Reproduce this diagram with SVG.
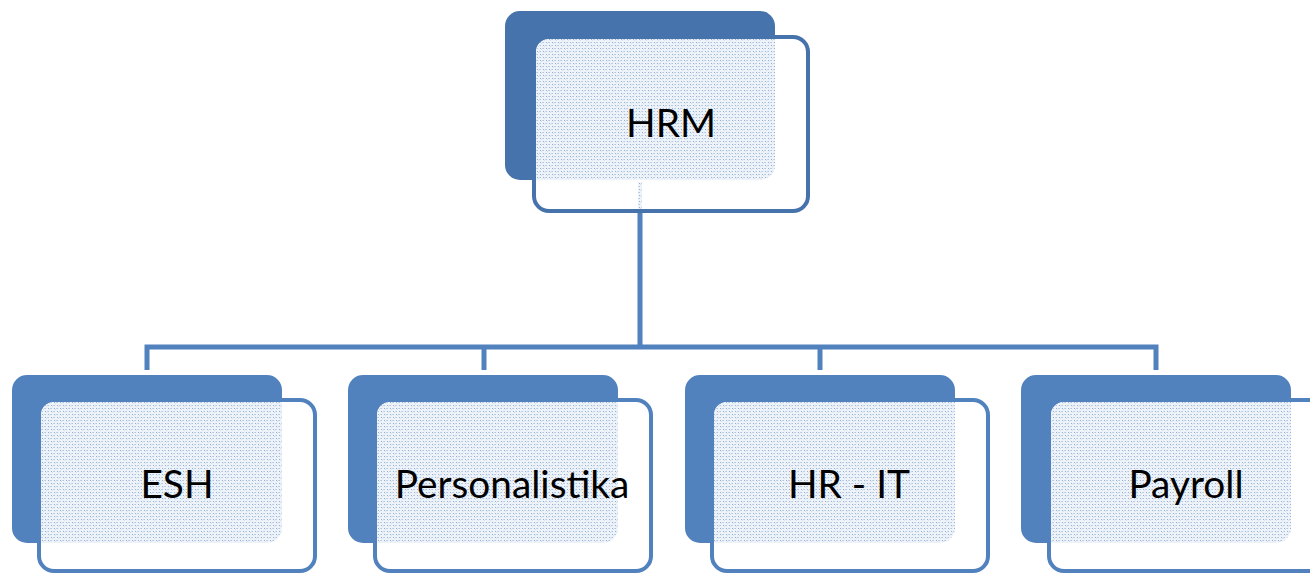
<svg xmlns="http://www.w3.org/2000/svg" width="1310" height="575" viewBox="0 0 1310 575">
<style>
.back{fill:#5182be}
.backTop{fill:#4673ab}
.front{fill:#ffffff;stroke:#5182be;stroke-width:4}
.frontTop{fill:#ffffff;stroke:#4673ab;stroke-width:4}
.dots{fill:url(#dot)}
.lbl{font-family:Lato,"Open Sans",sans-serif;font-size:38.8px;fill:#000;text-anchor:middle}
.conn{fill:none;stroke:#5182be;stroke-width:5}
</style>
<defs>
<pattern id="dot" width="6" height="6" patternUnits="userSpaceOnUse">
<rect width="6" height="6" fill="#eef3f9"/>
<rect x="0" y="0" width="1" height="1" fill="#94afd4"/>
<rect x="3" y="3" width="1" height="1" fill="#94afd4"/>
<rect x="2" y="0" width="1" height="1" fill="#c4d4e8"/>
<rect x="5" y="3" width="1" height="1" fill="#c4d4e8"/>
<rect x="0" y="3" width="1" height="1" fill="#b3c7e1"/>
<rect x="3" y="0" width="1" height="1" fill="#b3c7e1"/>
<rect x="1" y="1" width="1" height="1" fill="#d6e1ef"/>
<rect x="4" y="4" width="1" height="1" fill="#d6e1ef"/>
</pattern>
</defs>
<g id="connectors">
<path class="conn" d="M640,211 V347"/>
<path class="conn" d="M147,370 V347 H1156 V370"/>
<path class="conn" d="M484,347 V370"/>
<path class="conn" d="M820,347 V370"/>
</g>
<g id="node-hrm">
<rect class="backTop" x="505" y="11" width="270" height="169" rx="15"/>
<rect class="frontTop" x="534" y="37" width="274" height="174" rx="15"/>
<path class="dots" d="M536,52 a13,13 0 0 1 13,-13 H775 V165 a15,15 0 0 1 -15,15 H536 Z"/>
<rect class="dots" x="638" y="182" width="4" height="27"/>
<text class="lbl" x="671" y="137">HRM</text>
</g>
<g id="node-esh">
<rect class="back" x="12" y="375" width="270" height="168" rx="15"/>
<rect class="front" x="39" y="400" width="276" height="171" rx="15"/>
<path class="dots" d="M41,415 a13,13 0 0 1 13,-13 H282 V528 a15,15 0 0 1 -15,15 H41 Z"/>
<text class="lbl" x="177" y="498">ESH</text>
</g>
<g id="node-personalistika">
<rect class="back" x="348" y="375" width="270" height="168" rx="15"/>
<rect class="front" x="375" y="400" width="276" height="171" rx="15"/>
<path class="dots" d="M377,415 a13,13 0 0 1 13,-13 H618 V528 a15,15 0 0 1 -15,15 H377 Z"/>
<text class="lbl" x="512" y="498">Personalistika</text>
</g>
<g id="node-hrit">
<rect class="back" x="685" y="375" width="270" height="168" rx="15"/>
<rect class="front" x="712" y="400" width="276" height="171" rx="15"/>
<path class="dots" d="M714,415 a13,13 0 0 1 13,-13 H955 V528 a15,15 0 0 1 -15,15 H714 Z"/>
<text class="lbl" x="849" y="498">HR - IT</text>
</g>
<g id="node-payroll">
<rect class="back" x="1021" y="375" width="270" height="168" rx="15"/>
<rect class="front" x="1049" y="400" width="276" height="171" rx="15"/>
<path class="dots" d="M1051,415 a13,13 0 0 1 13,-13 H1291 V528 a15,15 0 0 1 -15,15 H1051 Z"/>
<text class="lbl" x="1186" y="498">Payroll</text>
</g>
</svg>
